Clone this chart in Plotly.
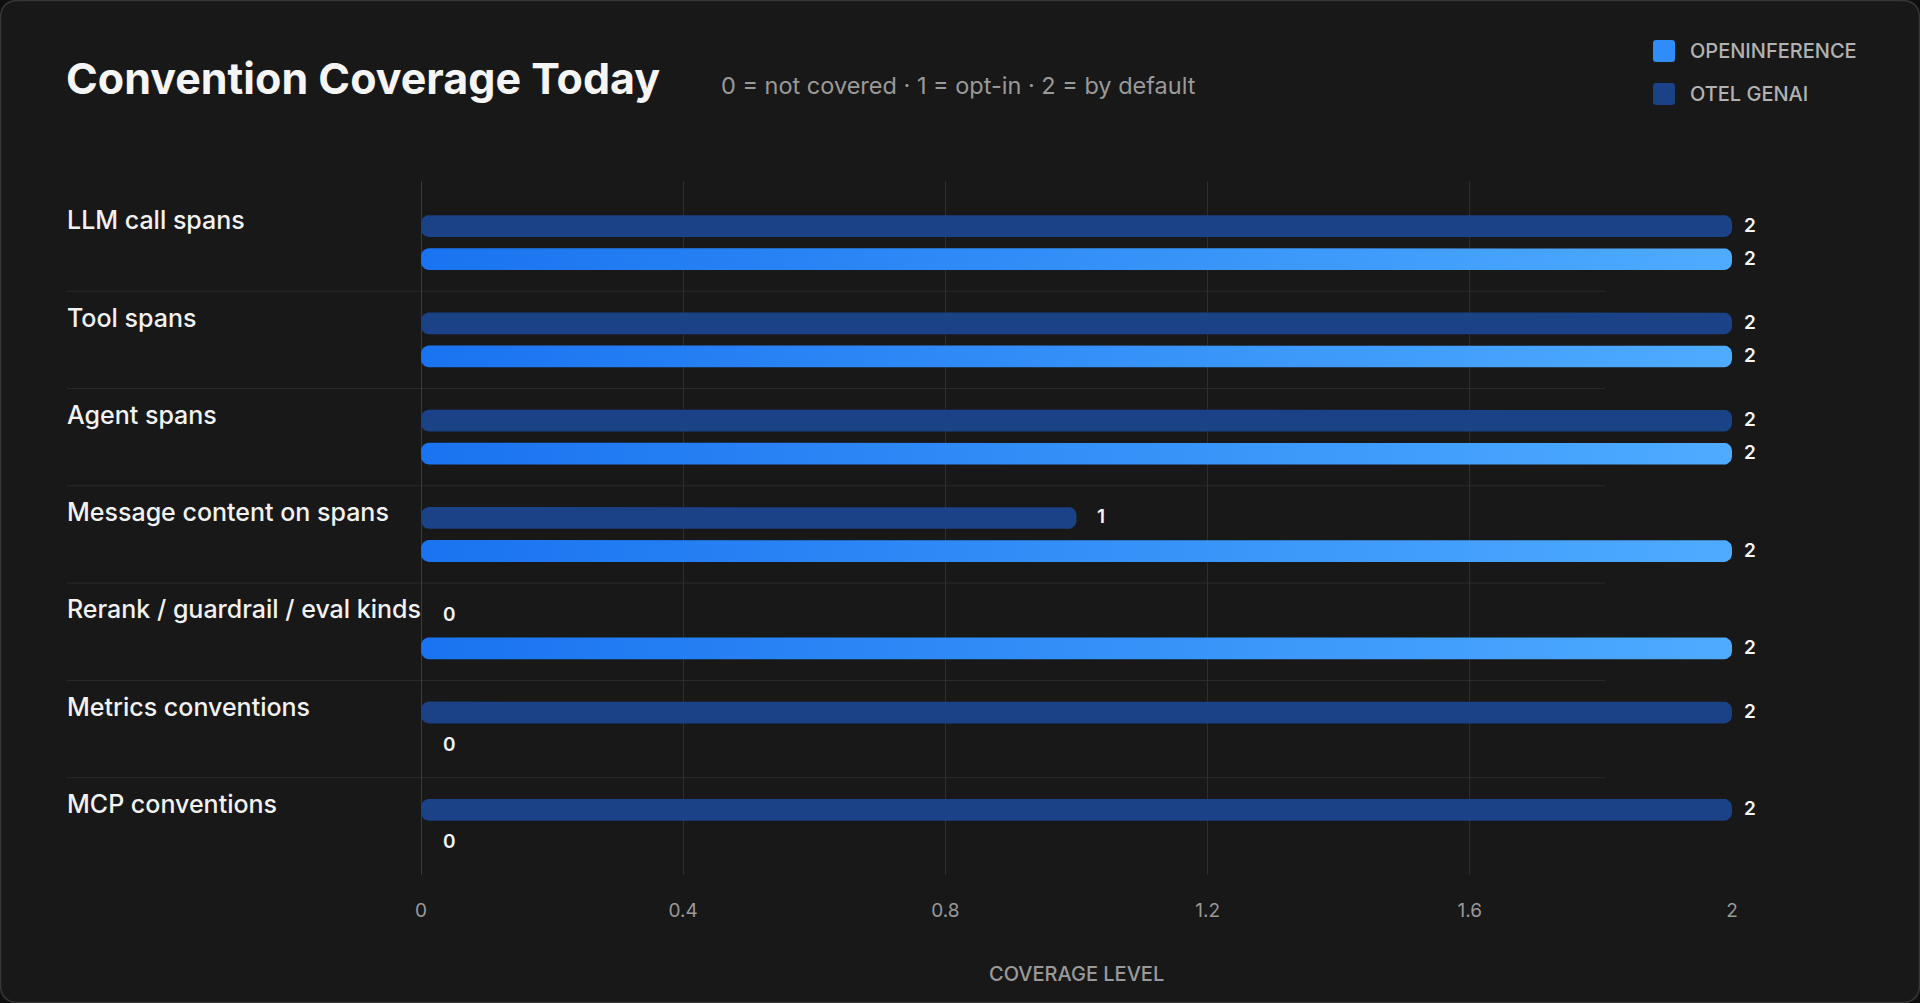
import numpy as np
import plotly.graph_objects as go

# ---------------- data ----------------
categories = [
    "LLM call spans",
    "Tool spans",
    "Agent spans",
    "Message content on spans",
    "Rerank / guardrail / eval kinds",
    "Metrics conventions",
    "MCP conventions",
]
otel_genai = [2, 2, 2, 1, 0, 2, 2]
openinference = [2, 2, 2, 2, 2, 0, 0]
x_tick_values = [0, 0.4, 0.8, 1.2, 1.6, 2]
x_tick_labels = ["0", "0.4", "0.8", "1.2", "1.6", "2"]
series_names = ["OPENINFERENCE", "OTEL GENAI"]
title_text = "Convention Coverage Today"
subtitle_text = "0 = not covered · 1 = opt-in · 2 = by default"
x_axis_title = "COVERAGE LEVEL"

# ---------------- layout geometry ----------------
W, H = 1920, 1003
ML, MR, MT, MB = 421, 188, 181, 128
PW, PH = W - ML - MR, H - MT - MB
X_RANGE = [0, 2]
Y_RANGE = [6.5, -0.633]  # bottom, top (reversed)
XPX = PW / (X_RANGE[1] - X_RANGE[0])
YPX = PH / (Y_RANGE[0] - Y_RANGE[1])

BAR_OFF = 0.17
BAR_HALF = 0.112
CORNER_PX = 8

FONT = "Inter"
BG = "#181818"
OTEL_COLOR = "#1b4186"
OI_LEFT, OI_RIGHT = "#1a73f0", "#4eabff"


def px2x(px):
    return (px - ML) / PW


def px2y(py):
    return (MT + PH - py) / PH


def rounded_bar(x_end, yc, half, r_px):
    rx = r_px / XPX
    ry = r_px / YPX
    x0 = 0.0
    xs, ys = [], []
    corners = [
        (x_end - rx, yc + half - ry, 0, 90),
        (x0 + rx, yc + half - ry, 90, 180),
        (x0 + rx, yc - half + ry, 180, 270),
        (x_end - rx, yc - half + ry, 270, 360),
    ]
    for cx, cy, a0, a1 in corners:
        for t in np.linspace(np.radians(a0), np.radians(a1), 8):
            xs.append(cx + rx * np.cos(t))
            ys.append(cy + ry * np.sin(t))
    xs.append(xs[0])
    ys.append(ys[0])
    return xs, ys


def series_polygons(values, offset):
    X, Y = [], []
    for i, v in enumerate(values):
        if v <= 0:
            continue
        xs, ys = rounded_bar(v, i + offset, BAR_HALF, CORNER_PX)
        X += xs + [None]
        Y += ys + [None]
    return X, Y


def rounded_rect_path_px(x0, y0, x1, y1, r):
    # px coordinates -> paper path with quadratic corners
    P = lambda x, y: f"{px2x(x):.6f},{px2y(y):.6f}"
    return (
        f"M{P(x0 + r, y0)} L{P(x1 - r, y0)} Q{P(x1, y0)} {P(x1, y0 + r)} "
        f"L{P(x1, y1 - r)} Q{P(x1, y1)} {P(x1 - r, y1)} "
        f"L{P(x0 + r, y1)} Q{P(x0, y1)} {P(x0, y1 - r)} "
        f"L{P(x0, y0 + r)} Q{P(x0, y0)} {P(x0 + r, y0)} Z"
    )


fig = go.Figure()

ox, oy = series_polygons(otel_genai, -BAR_OFF)
fig.add_trace(go.Scatter(
    x=ox, y=oy, mode="lines", fill="toself", fillcolor=OTEL_COLOR,
    line=dict(width=0), name=series_names[1], hoverinfo="skip", showlegend=False,
))
ix, iy = series_polygons(openinference, BAR_OFF)
fig.add_trace(go.Scatter(
    x=ix, y=iy, mode="lines", fill="toself",
    fillgradient=dict(type="horizontal", start=X_RANGE[0], stop=X_RANGE[1],
                      colorscale=[[0, OI_LEFT], [1, OI_RIGHT]]),
    line=dict(width=0), name=series_names[0], hoverinfo="skip", showlegend=False,
))

shapes = []
# card background
shapes.append(dict(type="path", xref="paper", yref="paper", layer="below",
                   path=rounded_rect_path_px(0.5, 0.5, W - 0.5, H - 0.5, 18),
                   fillcolor=BG, line=dict(color="#363636", width=1.5)))
# row separators
for i in range(len(categories) - 1):
    shapes.append(dict(type="line", xref="paper", yref="y", layer="below",
                       x0=px2x(67), x1=px2x(1605), y0=i + 0.5, y1=i + 0.5,
                       line=dict(color="#2c2c2c", width=1)))
# legend swatches
leg_colors = ["#2f8cf8", OTEL_COLOR]
leg_y = [51, 94]
for c, yc in zip(leg_colors, leg_y):
    shapes.append(dict(type="path", xref="paper", yref="paper",
                       path=rounded_rect_path_px(1653, yc - 11, 1675, yc + 11, 3),
                       fillcolor=c, line=dict(width=0)))

ann = []
ann.append(dict(text=title_text, xref="paper", yref="paper", x=px2x(64), y=px2y(78),
                xanchor="left", yanchor="middle", showarrow=False,
                font=dict(family=FONT, size=43, color="#f5f5f5", weight=700)))
ann.append(dict(text=subtitle_text, xref="paper", yref="paper", x=px2x(719), y=px2y(85),
                xanchor="left", yanchor="middle", showarrow=False,
                font=dict(family=FONT, size=23.5, color="#9a9a9a")))
for name, yc in zip(series_names, leg_y):
    ann.append(dict(text=name, xref="paper", yref="paper", x=px2x(1688), y=px2y(yc),
                    xanchor="left", yanchor="middle", showarrow=False,
                    font=dict(family=FONT, size=20, color="#b2b2b2", weight=500)))
for i, c in enumerate(categories):
    ann.append(dict(text=c, xref="paper", yref="y", x=px2x(65), y=i - 0.23,
                    xanchor="left", yanchor="middle", showarrow=False,
                    font=dict(family=FONT, size=25, color="#f2f2f2", weight=500)))
for vals, off in ((otel_genai, -BAR_OFF), (openinference, BAR_OFF)):
    for i, v in enumerate(vals):
        ann.append(dict(text=str(v), xref="x", yref="y", x=v, y=i + off - 0.01,
                        xanchor="left", yanchor="middle", showarrow=False,
                        xshift=10 if v == 2 else (18 if v == 1 else 20),
                        font=dict(family=FONT, size=19, color="#f5f5f5", weight=600)))
ann.append(dict(text=x_axis_title, xref="paper", yref="paper", x=0.5, y=0,
                yshift=-(974 - (MT + PH)), xanchor="center", yanchor="middle", showarrow=False,
                font=dict(family=FONT, size=20, color="#9a9a9a", weight=500)))

fig.update_layout(
    width=W, height=H,
    margin=dict(l=ML, r=MR, t=MT, b=MB, pad=0),
    paper_bgcolor="#0e0e0e", plot_bgcolor="rgba(0,0,0,0)",
    showlegend=False,
    shapes=shapes, annotations=ann,
    xaxis=dict(range=X_RANGE, tickvals=x_tick_values, ticktext=x_tick_labels,
               showgrid=True, gridcolor="#2e2e2e", gridwidth=1,
               zeroline=True, zerolinecolor="#3a3a3a", zerolinewidth=1,
               showline=False, ticks="", ticklabelstandoff=22,
               tickfont=dict(family=FONT, size=19, color="#9a9a9a"), fixedrange=True),
    yaxis=dict(range=Y_RANGE, showgrid=False, zeroline=False, showticklabels=False,
               showline=False, fixedrange=True),
    hovermode=False,
)

fig.write_html("out.html", include_plotlyjs=True, full_html=True,
               config=dict(displayModeBar=False))
